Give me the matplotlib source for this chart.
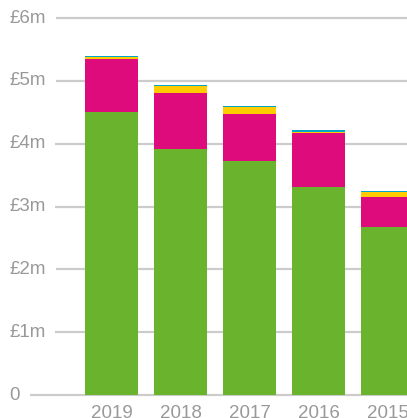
import matplotlib
matplotlib.use("Agg")
import matplotlib.pyplot as plt
import numpy as np

plt.rcParams['font.family'] = ['Liberation Sans', 'DejaVu Sans']

years = ["2019", "2018", "2017", "2016", "2015"]
green = [4.50, 3.915, 3.72, 3.31, 2.67]
magenta = [0.85, 0.895, 0.75, 0.86, 0.48]
yellow = [0.03, 0.11, 0.11, 0.015, 0.08]
blue = [0.02, 0.015, 0.02, 0.035, 0.02]
yticks = [0, 1, 2, 3, 4, 5, 6]
ylabels = ["0", "£1m", "£2m", "£3m", "£4m", "£5m", "£6m"]

colors = ["#6AB42D", "#DD0B7B", "#FFCC00", "#00A6C8"]
text_color = "#999999"
grid_color = "#cccccc"

W, H = 407, 418
fig = plt.figure(figsize=(W / 100, H / 100), dpi=100)
ax = fig.add_axes([0, 0, 1, 1])
ax.set_axis_off()

# pixel -> data mapping
x0_px, step_px = 111.5, 69.0
y0_px, unit_px = 395.0, 62.83
ax.set_xlim((0 - x0_px) / step_px, (W - x0_px) / step_px)
ax.set_ylim(-(H - y0_px) / unit_px, y0_px / unit_px)

x = np.arange(len(years))
fig.canvas.draw()
renderer = fig.canvas.get_renderer()
for val, lab in zip(yticks, ylabels):
    t = ax.text((9 - x0_px) / step_px, val, lab, ha="left", va="center",
                fontsize=13.5, color=text_color)
    bb = t.get_window_extent(renderer)
    start = ax.transData.inverted().transform((bb.x1 + 10, 0))[0]
    ax.plot([start, ax.get_xlim()[1]], [val, val], color=grid_color,
            lw=1.6, zorder=0, solid_capstyle="butt")

width = 53 / step_px
bottom = np.zeros(len(years))
for series, c in zip([green, magenta, yellow, blue], colors):
    ax.bar(x, series, width=width, bottom=bottom, color=c, zorder=2, linewidth=0)
    bottom += np.array(series)

for xi, yr in zip(x, years):
    ax.text(xi, -(405 - y0_px) / unit_px, yr, ha="center", va="top",
            fontsize=13.5, color=text_color)

fig.savefig("out.png", dpi=100)
